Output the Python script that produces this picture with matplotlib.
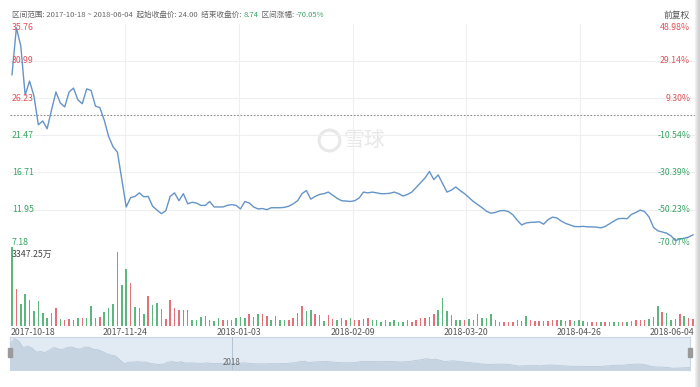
import numpy as np
import matplotlib
matplotlib.use("Agg")
import matplotlib.pyplot as plt
from matplotlib.patches import Rectangle

plt.rcParams['font.family'] = ['Noto Sans CJK SC', 'DejaVu Sans']

# closing prices, one per trading day
close = [29.2, 35.2, 32.9, 26.6, 28.4, 26.5, 22.8, 23.3, 22.3, 24.7,
         27.0, 25.6, 25.1, 27.0, 27.5, 26.0, 25.5, 27.4, 27.2, 25.2,
         25.0, 23.4, 21.3, 20.0, 19.3, 15.8, 12.3, 13.5, 13.65, 14.1,
         13.6, 13.65, 12.4, 11.9, 11.45, 11.8, 13.65, 14.1, 13.1, 14.0,
         12.7, 12.9, 12.8, 12.5, 12.5, 13.0, 12.3, 12.3, 12.3, 12.5,
         12.6, 12.5, 12.05, 13.0, 12.8, 12.3, 12.05, 12.1, 11.95, 12.2,
         12.2, 12.2, 12.25, 12.4, 12.7, 13.1, 14.0, 14.4, 13.3, 13.65,
         13.9, 14.0, 14.2, 13.8, 13.4, 13.1, 13.06, 13.0, 13.1, 13.44,
         14.2, 14.1, 14.2, 14.1, 14.0, 14.0, 14.05, 14.2, 14.0, 13.7,
         13.9, 14.2, 14.8, 15.4, 16.0, 16.84, 15.8, 16.4, 15.3, 14.2,
         14.45, 14.85, 14.4, 14.0, 13.5, 13.0, 12.6, 12.2, 11.75, 11.5,
         11.6, 11.8, 11.85, 11.7, 11.3, 10.6, 10.0, 10.25, 10.33, 10.35,
         10.4, 10.1, 10.67, 11.0, 10.9, 10.5, 10.2, 10.0, 9.8, 9.78,
         9.82, 9.76, 9.75, 9.72, 9.63, 9.8, 10.15, 10.5, 10.8, 10.84,
         10.8, 11.35, 11.6, 11.9, 11.7, 11.0, 9.7, 9.25, 9.1, 8.95,
         8.6, 8.0, 8.2, 8.3, 8.45, 8.74]

# volume in 万 shares
volume = [3347, 1573, 930, 1359, 1073, 615, 1030, 529, 329, 529,
          744, 272, 215, 272, 243, 300, 300, 315, 844, 329,
          358, 572, 758, 930, 3146, 1745, 2417, 1816, 787, 744,
          501, 1244, 858, 958, 715, 286, 1073, 744, 672, 672,
          672, 215, 243, 358, 386, 215, 172, 329, 215, 215,
          215, 300, 358,
          329, 472, 358, 472, 501, 415, 215, 386, 215, 215,
          243, 300, 529, 829, 615, 672, 501, 429, 172, 429,
          286, 243, 329, 243, 329, 243, 215, 272, 329, 243,
          215, 157, 215, 157, 215, 129, 157, 215, 157, 215,
          300, 300, 358, 472, 644, 1173, 601, 429, 243, 243,
          215, 272,
          215, 472, 329, 329, 472, 215, 157, 157, 129, 157,
          215, 186, 415, 215, 186, 186, 186, 186, 215, 215,
          215, 186, 215, 186, 215, 172, 157, 157, 129, 157,
          129, 143, 157, 129, 143, 157, 172, 243, 215, 215,
          272, 358, 829, 572, 529, 215, 286, 472, 386, 329,
          286]

# bar colour per day: 1 = up (red), 0 = down (green)
up = [0, 1, 0, 0, 1, 0, 0, 0, 0, 1, 1, 0, 1, 1, 1, 0, 1, 0, 0, 1,
      1, 0, 0, 0, 1, 0, 0, 1, 0, 0, 0, 1, 0, 0, 0, 1, 1, 1, 1, 1,
      0, 0, 0, 0, 0, 1, 0, 0, 1, 0, 0, 0, 0,
      0, 1, 0, 0, 1, 1, 0, 0, 0, 0, 1, 1, 1, 1, 0, 0, 1, 1, 0, 1,
      1, 0, 0, 1, 0, 1, 1, 1, 1, 0, 0, 0, 0, 0, 0, 0, 0, 0, 1, 1,
      1, 1, 1, 1, 0, 0, 0, 0, 0, 0, 1, 0,
      0, 1, 0, 0, 0, 0, 1, 1, 1, 1, 1, 1, 0, 1, 1, 1, 1, 1, 1, 1,
      0, 0, 1, 0, 0, 0, 0, 1, 1, 0, 1, 1, 0, 0, 1, 0, 0, 1, 1, 1,
      0, 0, 0, 1, 0, 0, 0, 1, 0, 1, 1]

date_labels = ['2017-10-18', '2017-11-24', '2018-01-03', '2018-02-09',
               '2018-03-20', '2018-04-26', '2018-06-04']
base_price = 24.00
price_ticks = [35.76, 30.99, 26.23, 21.47, 16.71, 11.95, 7.18]
pct_labels = ['48.98%', '29.14%', '9.30%', '-10.54%', '-30.39%', '-50.23%', '-70.07%']

RED = '#e0525a'
GREEN = '#3aa565'
GRID = '#efefef'
FS = 6.3

n = len(close)
x = np.arange(n)
label_pos = np.linspace(0, n - 1, len(date_labels))

fig = plt.figure(figsize=(7, 3.87), dpi=100)
W, H = 700.0, 387.0


def box(x0, y0, x1, y1):
    # pixel box (top-left origin) -> figure fraction
    return [x0 / W, 1 - y1 / H, (x1 - x0) / W, (y1 - y0) / H]


x_lim = (-0.45, n - 1 + 0.45)

# ---- price panel
ax = fig.add_axes(box(10, 23.5, 695, 247))
ax.plot(x, close, color='#6494c8', lw=1.0, zorder=3)
ax.axhline(base_price, color='#8a8a8a', lw=0.8, ls=(0, (1.5, 1.5)), zorder=2)
ax.set_ylim(min(price_ticks), max(price_ticks))
ax.set_xlim(*x_lim)
for p in price_ticks[1:-1]:
    ax.axhline(p, color=GRID, lw=0.8, zorder=1)
for xp in label_pos[1:-1]:
    ax.axvline(xp, color=GRID, lw=0.8, zorder=1)
ax.set_xticks([])
ax.set_yticks([])
for s in ax.spines.values():
    s.set_visible(False)

for i, (p, pl) in enumerate(zip(price_ticks, pct_labels)):
    col = RED if p > base_price else GREEN
    va = 'top' if i == 0 else ('bottom' if i == len(price_ticks) - 1 else 'center')
    ax.text(0.003, p, '%.2f' % p, transform=ax.get_yaxis_transform(),
            color=col, fontsize=FS, ha='left', va=va, zorder=4)
    ax.text(0.993, p, pl, transform=ax.get_yaxis_transform(),
            color=col, fontsize=FS, ha='right', va=va, zorder=4)

# watermark
ax.plot([0.465], [0.48], marker='o', ms=15, mfc='none', mec='#e8e8e8', mew=2.2,
        transform=ax.transAxes, zorder=0)
ax.text(0.487, 0.48, '雪球', transform=ax.transAxes, fontsize=15,
        color='#e8e8e8', ha='left', va='center', zorder=0)

# ---- volume panel
axv = fig.add_axes(box(10, 247, 695, 325.5))
colors = ['#e4707a' if u else '#5db67e' for u in up]
axv.bar(x, volume, width=0.35, color=colors, zorder=3)
axv.set_ylim(0, max(volume))
axv.set_xlim(*x_lim)
for xp in label_pos[1:-1]:
    axv.axvline(xp, color=GRID, lw=0.8, zorder=1)
axv.set_xticks([])
axv.set_yticks([])
for s in axv.spines.values():
    s.set_visible(False)
axv.text(0.003, 0.96, '3347.25万', transform=axv.transAxes, fontsize=FS,
         color='#444444', ha='left', va='top', zorder=4)

# date labels
for i, (xp, lab) in enumerate(zip(label_pos, date_labels)):
    ha = 'left' if i == 0 else ('right' if i == len(date_labels) - 1 else 'center')
    xx = xp - 0.4 if i == 0 else (xp + 0.4 if ha == 'right' else xp)
    axv.text(xx, -0.03, lab, transform=axv.get_xaxis_transform(),
             fontsize=FS, color='#555555', ha=ha, va='top')

# ---- top info line, pieces chained one after another
TFS = 5.5
parts = [('区间范围: 2017-10-18 ~ 2018-06-04  起始收盘价: 24.00  结束收盘价: ', '#666666'),
         ('8.74', GREEN),
         ('  区间涨幅: ', '#666666'),
         ('-70.05%', GREEN)]
prev = fig.text(12 / W, 1 - 15 / H, parts[0][0], fontsize=TFS, color=parts[0][1],
                ha='left', va='center')
for txt, col in parts[1:]:
    prev = plt.annotate(txt, xy=(1, 0.5), xycoords=prev, xytext=(0, 0),
                        textcoords='offset points', fontsize=TFS, color=col,
                        ha='left', va='center', annotation_clip=False)
fig.text(690 / W, 1 - 15 / H, '前复权', fontsize=FS, color='#555555', ha='right', va='center')

# ---- navigator
axn = fig.add_axes(box(10, 337, 690, 370))
axn.set_facecolor('#e2ebf4')
axn.fill_between(x, close, 0, color='#c6d4e2', lw=0, zorder=2)
axn.plot(x, close, color='#b9c9d9', lw=0.6, zorder=3)
axn.set_xlim(0, n - 1)
axn.set_ylim(min(close) * 0.8, max(close) * 1.04)
axn.set_xticks([])
axn.set_yticks([])
for s in axn.spines.values():
    s.set_color('#c9d6e3')
    s.set_linewidth(0.8)
year_pos = 50.5
axn.axvline(year_pos, color='#b5c3d1', lw=0.7, zorder=4)
axn.text(year_pos, 0.08, '2018', transform=axn.get_xaxis_transform(),
         fontsize=5.8, color='#666666', ha='center', va='bottom', zorder=5)
for hx in (0, n - 1):
    axn.add_patch(Rectangle((hx - 0.5, 0.38), 1.0, 0.3, transform=axn.get_xaxis_transform(),
                            color='#9a9a9a', zorder=5, clip_on=False))

# screenshot edge shading on the right
for k, c in enumerate(['#f3f3f3', '#e8e8e8', '#dedede', '#d6d6d6', '#d0d0d0']):
    fig.patches.append(Rectangle(((695 + k) / W, 0), 1 / W, 1, transform=fig.transFigure,
                                 color=c, zorder=0))

fig.savefig('out.png', dpi=100)
